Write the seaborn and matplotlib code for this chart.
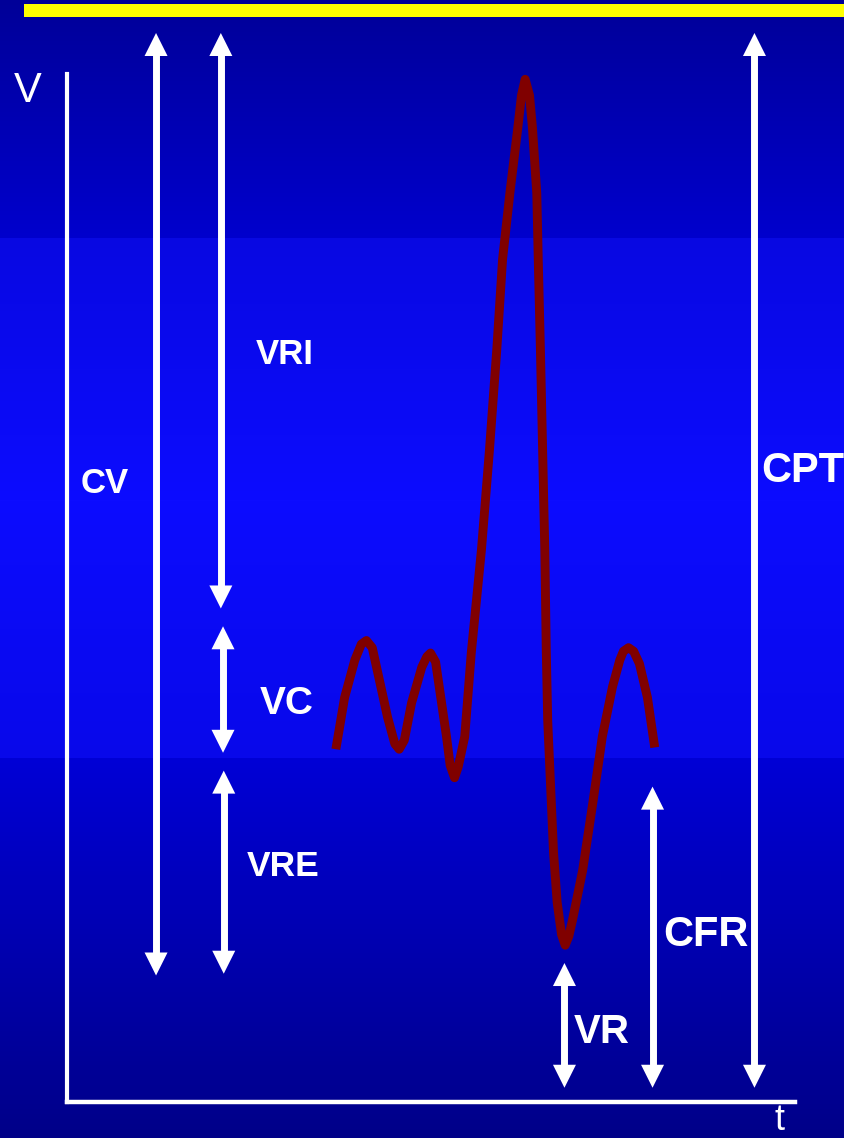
import matplotlib
matplotlib.use("Agg")
import matplotlib.pyplot as plt
import numpy as np
import pandas as pd
import seaborn as sns
from matplotlib.patches import ArrowStyle, FancyArrowPatch, Rectangle

# Spirogram trace: time (s) and volume (L)
trace_t = [3.70, 3.82, 3.96, 4.05, 4.12, 4.20, 4.27, 4.41, 4.51, 4.57,
           4.64, 4.74, 4.88, 4.95, 5.00, 5.07, 5.12, 5.22, 5.27, 5.33,
           5.38, 5.47, 5.56, 5.70, 5.81, 5.91, 5.99, 6.09, 6.20, 6.25,
           6.30, 6.36, 6.40, 6.46, 6.48, 6.51, 6.54, 6.57, 6.59, 6.61,
           6.65, 6.69, 6.74, 6.80, 6.85, 6.90, 6.95, 7.09, 7.23, 7.36,
           7.50, 7.60, 7.65, 7.72, 7.79, 7.87, 7.98, 8.08]
trace_v = [1.98, 2.27, 2.48, 2.57, 2.59, 2.55, 2.42, 2.16, 2.01, 1.98,
           2.03, 2.24, 2.44, 2.50, 2.52, 2.47, 2.33, 2.05, 1.89, 1.82,
           1.88, 2.05, 2.52, 3.10, 3.66, 4.22, 4.73, 5.10, 5.47, 5.65,
           5.74, 5.65, 5.47, 5.10, 4.73, 4.22, 3.66, 3.10, 2.54, 2.14,
           1.77, 1.40, 1.12, 0.94, 0.88, 0.93, 1.02, 1.30, 1.68, 2.05,
           2.33, 2.48, 2.53, 2.55, 2.53, 2.46, 2.27, 1.99]

# Volumes and capacities: where the arrow stands and what it spans (L)
volume_names = ["CV", "VRI", "VC", "VRE", "VR", "CFR", "CPT"]
volume_t = [1.23, 2.12, 2.15, 2.16, 6.84, 8.05, 9.45]
volume_low = [0.71, 2.77, 1.96, 0.72, 0.08, 0.08, 0.08]
volume_high = [6.00, 6.00, 2.67, 1.86, 0.78, 1.77, 6.00]

# label layout (t, V baseline) and font size
label_pos = {
    "CV": (0.52, 3.42, 25),
    "VRI": (3.00, 4.14, 25),
    "VC": (3.03, 2.18, 28),
    "VRE": (2.97, 1.27, 25.5),
    "VR": (7.35, 0.33, 29),
    "CFR": (8.78, 0.875, 30),
    "CPT": (10.12, 3.48, 30),
}

W, H = 845, 1138
sns.set_style("white")
plt.rcParams["font.family"] = ["Liberation Sans", "DejaVu Sans"]

fig = plt.figure(figsize=(W / 100, H / 100), dpi=100)

# background: banded blue gradient + yellow rule at the top
bg = fig.add_axes([0, 0, 1, 1], zorder=0)
stops_y = [0, 237, 238, 500, 757, 758, H]
stops_rgb = np.array([[0, 0, 152], [0, 0, 205], [8, 8, 226], [12, 12, 255],
                      [8, 8, 234], [0, 0, 214], [0, 0, 136]]) / 255
rows = np.arange(H)
grad = np.stack([np.interp(rows, stops_y, stops_rgb[:, c]) for c in range(3)], axis=1)
bg.imshow(grad[:, None, :], extent=(0, W, H, 0), aspect="auto")
bg.add_patch(Rectangle((24, 4), W - 24, 13, color="#ffff00", lw=0))
bg.set_xlim(0, W)
bg.set_ylim(H, 0)
bg.axis("off")

# spirogram axes
ax = fig.add_axes([66.5 / W, 36 / H, 728 / W, 1069 / H], zorder=1)
ax.set_facecolor("none")
ax.set_xlim(0, 10)
ax.set_ylim(0, 6)
sns.despine(ax=ax)
ax.spines["left"].set_color("white")
ax.spines["left"].set_linewidth(3.0)
ax.spines["left"].set_bounds(0, 5.77)
ax.spines["bottom"].set_color("white")
ax.spines["bottom"].set_linewidth(3.2)
ax.set_xticks([])
ax.set_yticks([])

df = pd.DataFrame({"t": trace_t, "V": trace_v})
sns.lineplot(data=df, x="t", y="V", sort=False, estimator=None, color="#800000",
             lw=6.4, ax=ax, solid_capstyle="butt", solid_joinstyle="round")
ax.set_xlabel("")
ax.set_ylabel("")

# arrows: shaft as a line, filled heads as a patch
px_per_v = ax.transData.transform((0, 1))[1] - ax.transData.transform((0, 0))[1]
head_len_px = 23
head_v = head_len_px / px_per_v
style = ArrowStyle("<|-|>", head_length=head_len_px * 0.72, head_width=11.5 * 0.72)
for name, t, lo, hi in zip(volume_names, volume_t, volume_low, volume_high):
    ax.plot([t, t], [lo + head_v * 0.6, hi - head_v * 0.6], color="white",
            lw=5.0, solid_capstyle="butt", clip_on=False)
    ax.add_patch(FancyArrowPatch((t, lo), (t, hi), arrowstyle=style, mutation_scale=1,
                                 color="white", lw=0, shrinkA=0, shrinkB=0, clip_on=False))
    lx, ly, size = label_pos[name]
    ax.text(lx, ly, name, color="white", fontsize=size, fontweight="bold",
            ha="center", va="baseline")

ax.text(-0.53, 5.61, "V", color="white", fontsize=30, ha="center", va="baseline")
ax.text(9.79, -0.157, "t", color="white", fontsize=26, ha="center", va="baseline")

fig.savefig("out.png", dpi=100)
